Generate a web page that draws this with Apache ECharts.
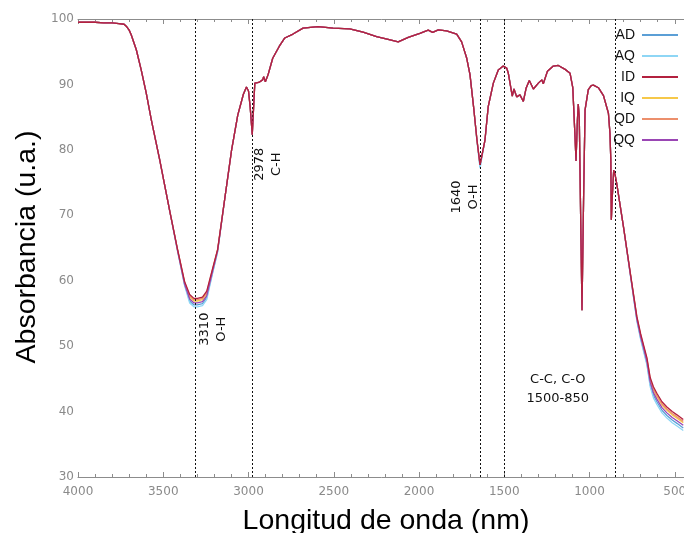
<!DOCTYPE html>
<html>
<head>
<meta charset="utf-8">
<script src="https://cdn.jsdelivr.net/npm/echarts@6/dist/echarts.min.js"></script>
<style>html,body{margin:0;padding:0;background:#fff;overflow:hidden;}#c{width:684px;height:533px;}</style>
</head>
<body>
<div id="c"></div>
<script>
// ---- data ----
const wavenumbers = [4000,3950,3900,3850,3800,3760,3730,3717,3700,3688,
3658,3629,3600,3570,3521,3463,3416,3375,3345,3320,
3300,3270,3245,3210,3181,3140,3099,3063,3030,3012,
3000,2990,2978,2970,2963,2940,2917,2911,2901,2885,
2858,2820,2787,2739,2680,2592,2504,2406,2328,2249,
2181,2122,2063,1995,1946,1920,1887,1838,1779,1750,
1720,1701,1678,1660,1642,1613,1594,1564,1535,1506,
1486,1476,1467,1453,1443,1427,1408,1388,1372,1353,
1329,1300,1280,1271,1247,1212,1183,1143,1114,1098,
1085,1079,1071,1066,1060,1052,1044,1035,1026,1007,
990,977,948,918,889,880,875,872,866,858,
850,840,800,760,722,700,680,663,644,625,
605,575,546,515,487,450];

const AD = [99.5,99.5,99.5,99.4,99.4,99.3,99.2,98.9,98.3,97.6,
95.3,92.2,88.7,84.6,78.5,70.8,64.6,59.4,56.9,56.3,
56.3,56.5,57.4,61.3,64.5,72.4,80.0,85.3,88.5,89.6,
89.0,86.5,82.3,86.5,90.2,90.3,90.7,91.2,90.4,91.5,
94.0,95.8,97.1,97.7,98.6,98.85,98.6,98.5,98.0,97.3,
96.9,96.5,97.2,97.8,98.3,97.95,98.35,98.2,97.7,96.5,
94.0,91.5,86.1,81.4,77.4,81.5,86.6,90.2,92.2,92.8,
92.5,91.7,91.7,88.2,89.3,88.1,88.4,87.4,89.4,90.6,
89.3,90.2,90.7,90.1,92.0,92.8,92.9,92.3,91.7,89.5,
82.0,78.3,84.5,87.0,85.0,70.0,55.5,72.0,86.1,89.2,
89.8,89.9,89.5,88.3,85.6,82.5,78.5,69.3,73.0,76.9,
76.2,74.8,68.1,60.8,54.0,51.2,49.1,47.3,44.1,42.5,
41.5,40.2,39.4,38.7,38.2,37.5];

const AQ = [99.5,99.5,99.5,99.4,99.4,99.3,99.2,98.9,98.3,97.6,
95.3,92.2,88.7,84.6,78.5,70.8,64.5,59.3,56.6,56.0,
56.0,56.2,57.1,61.2,64.4,72.4,80.0,85.3,88.5,89.6,
89.0,86.5,82.3,86.5,90.2,90.3,90.7,91.2,90.4,91.5,
94.0,95.8,97.1,97.7,98.6,98.85,98.6,98.5,98.0,97.3,
96.9,96.5,97.2,97.8,98.3,97.95,98.35,98.2,97.7,96.5,
94.0,91.5,86.1,81.3,77.2,81.5,86.6,90.2,92.2,92.8,
92.5,91.7,91.7,88.2,89.3,88.1,88.4,87.4,89.4,90.6,
89.3,90.2,90.7,90.1,92.0,92.8,92.9,92.3,91.7,89.5,
82.0,78.3,84.5,87.0,85.0,70.0,55.5,72.0,86.1,89.2,
89.8,89.9,89.5,88.3,85.6,82.5,78.5,69.3,73.0,76.9,
76.2,74.8,68.1,60.8,53.8,51.0,48.9,47.1,43.8,42.1,
41.1,39.8,39.0,38.3,37.8,37.1];

const ID = [99.5,99.5,99.5,99.4,99.4,99.3,99.2,98.9,98.3,97.6,
95.3,92.2,88.7,84.6,78.5,70.8,64.8,59.9,57.9,57.3,
57.3,57.5,58.4,61.9,64.8,72.4,80.0,85.3,88.5,89.6,
89.0,86.5,82.3,86.5,90.2,90.3,90.7,91.2,90.4,91.5,
94.0,95.8,97.1,97.7,98.6,98.85,98.6,98.5,98.0,97.3,
96.9,96.5,97.2,97.8,98.3,97.95,98.35,98.2,97.7,96.5,
94.0,91.5,86.1,81.5,77.7,81.5,86.6,90.2,92.2,92.8,
92.5,91.7,91.7,88.2,89.3,88.1,88.4,87.4,89.4,90.6,
89.3,90.2,90.7,90.1,92.0,92.8,92.9,92.3,91.7,89.5,
82.0,78.3,84.5,87.0,85.0,70.0,55.5,72.0,86.1,89.2,
89.8,89.9,89.5,88.3,85.6,82.5,78.5,69.3,73.0,76.9,
76.2,74.8,68.1,61.1,54.5,51.9,49.9,48.2,45.2,43.8,
42.8,41.5,40.7,40.0,39.5,38.8];

const IQ = [99.5,99.5,99.5,99.4,99.4,99.3,99.2,98.9,98.3,97.6,
95.3,92.2,88.7,84.6,78.5,70.8,64.7,59.7,57.5,56.9,
56.9,57.1,58.0,61.7,64.7,72.4,80.0,85.3,88.5,89.6,
89.0,86.5,82.3,86.5,90.2,90.3,90.7,91.2,90.4,91.5,
94.0,95.8,97.1,97.7,98.6,98.85,98.6,98.5,98.0,97.3,
96.9,96.5,97.2,97.8,98.3,97.95,98.35,98.2,97.7,96.5,
94.0,91.5,86.1,81.5,77.7,81.5,86.6,90.2,92.2,92.8,
92.5,91.7,91.7,88.2,89.3,88.1,88.4,87.4,89.4,90.6,
89.3,90.2,90.7,90.1,92.0,92.8,92.9,92.3,91.7,89.5,
82.0,78.3,84.5,87.0,85.0,70.0,55.5,72.0,86.1,89.2,
89.8,89.9,89.5,88.3,85.6,82.5,78.5,69.3,73.0,76.9,
76.2,74.8,68.1,61.0,54.3,51.6,49.6,47.9,44.8,43.3,
42.3,41.0,40.2,39.5,39.0,38.3];

const QD = [99.5,99.5,99.5,99.4,99.4,99.3,99.2,98.9,98.3,97.6,
95.3,92.2,88.7,84.6,78.5,70.8,64.7,59.8,57.7,57.1,
57.1,57.3,58.2,61.8,64.8,72.4,80.0,85.3,88.5,89.6,
89.0,86.5,82.3,86.5,90.2,90.3,90.7,91.2,90.4,91.5,
94.0,95.8,97.1,97.7,98.6,98.85,98.6,98.5,98.0,97.3,
96.9,96.5,97.2,97.8,98.3,97.95,98.35,98.2,97.7,96.5,
94.0,91.5,86.1,81.5,77.7,81.5,86.6,90.2,92.2,92.8,
92.5,91.7,91.7,88.2,89.3,88.1,88.4,87.4,89.4,90.6,
89.3,90.2,90.7,90.1,92.0,92.8,92.9,92.3,91.7,89.5,
82.0,78.3,84.5,87.0,85.0,70.0,55.5,72.0,86.1,89.2,
89.8,89.9,89.5,88.3,85.6,82.5,78.5,69.3,73.0,76.9,
76.2,74.8,68.1,61.0,54.4,51.7,49.7,48.0,45.0,43.5,
42.5,41.2,40.4,39.7,39.2,38.5];

const QQ = [99.5,99.5,99.5,99.4,99.4,99.3,99.2,98.9,98.3,97.6,
95.3,92.2,88.7,84.6,78.5,70.8,64.6,59.5,57.2,56.6,
56.6,56.8,57.7,61.5,64.6,72.4,80.0,85.3,88.5,89.6,
89.0,86.5,82.3,86.5,90.2,90.3,90.7,91.2,90.4,91.5,
94.0,95.8,97.1,97.7,98.6,98.85,98.6,98.5,98.0,97.3,
96.9,96.5,97.2,97.8,98.3,97.95,98.35,98.2,97.7,96.5,
94.0,91.5,86.1,81.5,77.7,81.5,86.6,90.2,92.2,92.8,
92.5,91.7,91.7,88.2,89.3,88.1,88.4,87.4,89.4,90.6,
89.3,90.2,90.7,90.1,92.0,92.8,92.9,92.3,91.7,89.5,
82.0,78.3,84.5,87.0,85.0,70.0,55.5,72.0,86.1,89.2,
89.8,89.9,89.5,88.3,85.6,82.5,78.5,69.3,73.0,76.9,
76.2,74.8,68.1,60.9,54.1,51.4,49.4,47.6,44.5,42.9,
41.9,40.6,39.8,39.1,38.6,37.9];

const seriesNames = ['AD','AQ','ID','IQ','QD','QQ'];
const seriesValues = [AD, AQ, ID, IQ, QD, QQ];
const bandLines = [3310, 2978, 1640, 1500, 850];

// ---- styling ----
const colors = ['#5b9fd6','#8ed6f5','#b3213f','#f6c84a','#ec8f6c','#9a46b4'];
const zOrder = [2,2,5,2,2,4];
const notes = [
  {text:'3310\nO-H', at:[3205, 52.6], rot:Math.PI/2, lh:17},
  {text:'2978\nC-H', at:[2882, 77.8], rot:Math.PI/2, lh:17},
  {text:'1640\nO-H', at:[1729, 72.8], rot:Math.PI/2, lh:17},
  {text:'C-C, C-O\n1500-850', at:[1186, 43.4], rot:0, lh:19}
];

const chart = echarts.init(document.getElementById('c'), null, {renderer:'canvas'});
const axisGray = '#8c8c8c';
const series = seriesNames.map((n,i)=>({
  name:n, type:'line', showSymbol:false, symbol:'none', z:zOrder[i],
  data: wavenumbers.map((w,k)=>[w, seriesValues[i][k]]),
  lineStyle:{width:1.3, color:colors[i]}, itemStyle:{color:colors[i]},
  animation:false
}));
series[0].markLine = {
  silent:true, symbol:['none','none'], animation:false,
  label:{show:false},
  lineStyle:{type:[2,2], color:'#111', width:1},
  data: bandLines.map(v=>({xAxis:v}))
};

const xCommon = {
  type:'value', inverse:true, min:0, max:4000, interval:500,
  axisLine:{show:true, lineStyle:{color:axisGray, width:1}},
  axisTick:{show:true, inside:true, length:5, lineStyle:{color:axisGray}},
  minorTick:{show:true, splitNumber:5, length:3, lineStyle:{color:axisGray}},
  splitLine:{show:false}
};

chart.setOption({
  animation:false,
  color:colors,
  grid:{left:78, top:19, width:682, height:458, containLabel:false, outerBoundsMode:'none'},
  legend:{
    orient:'vertical', right:6, top:28, align:'right', padding:0,
    itemWidth:36, itemHeight:14, itemGap:7,
    textStyle:{fontFamily:'Liberation Sans', fontSize:14, color:'#111', padding:[0,2,0,0]},
    data: seriesNames.map((n,i)=>({name:n, icon:'path://M0,0L36,0L36,2L0,2Z', itemStyle:{color:colors[i]}}))
  },
  xAxis:[
    Object.assign({}, xCommon, {position:'bottom',
      axisLabel:{show:true, color:'#8a8a8a', fontFamily:'DejaVu Sans', fontSize:12, margin:9,
        formatter:v=>String(v)}}),
    Object.assign({}, xCommon, {position:'top', axisLabel:{show:false}})
  ],
  yAxis:{
    type:'value', min:30, max:100, interval:10,
    axisLine:{show:true, lineStyle:{color:axisGray, width:1}},
    axisTick:{show:true, inside:true, length:5, lineStyle:{color:axisGray}},
    minorTick:{show:true, splitNumber:5, length:3, lineStyle:{color:axisGray}},
    splitLine:{show:false},
    axisLabel:{color:'#8a8a8a', fontFamily:'DejaVu Sans', fontSize:12, margin:4}
  },
  series: series
});

const g = notes.map(n=>{
  const p = chart.convertToPixel({xAxisIndex:0, yAxisIndex:0}, n.at);
  return {type:'text', x:p[0], y:p[1], rotation:n.rot, z:10,
    style:{text:n.text, fontFamily:'DejaVu Sans', fontSize:13, lineHeight:n.lh,
      fill:'#111', align:'center', verticalAlign:'middle'}};
});
g.push({type:'text', x:386, y:521, z:10,
  style:{text:'Longitud de onda (nm)', fontFamily:'Liberation Sans', fontSize:28.5, fill:'#000',
    align:'center', verticalAlign:'middle'}});
g.push({type:'text', x:27, y:247, rotation:Math.PI/2, z:10,
  style:{text:'Absorbancia (u.a.)', fontFamily:'Liberation Sans', fontSize:28.5, fill:'#000',
    align:'center', verticalAlign:'middle'}});
chart.setOption({graphic:g});
</script>
</body>
</html>
